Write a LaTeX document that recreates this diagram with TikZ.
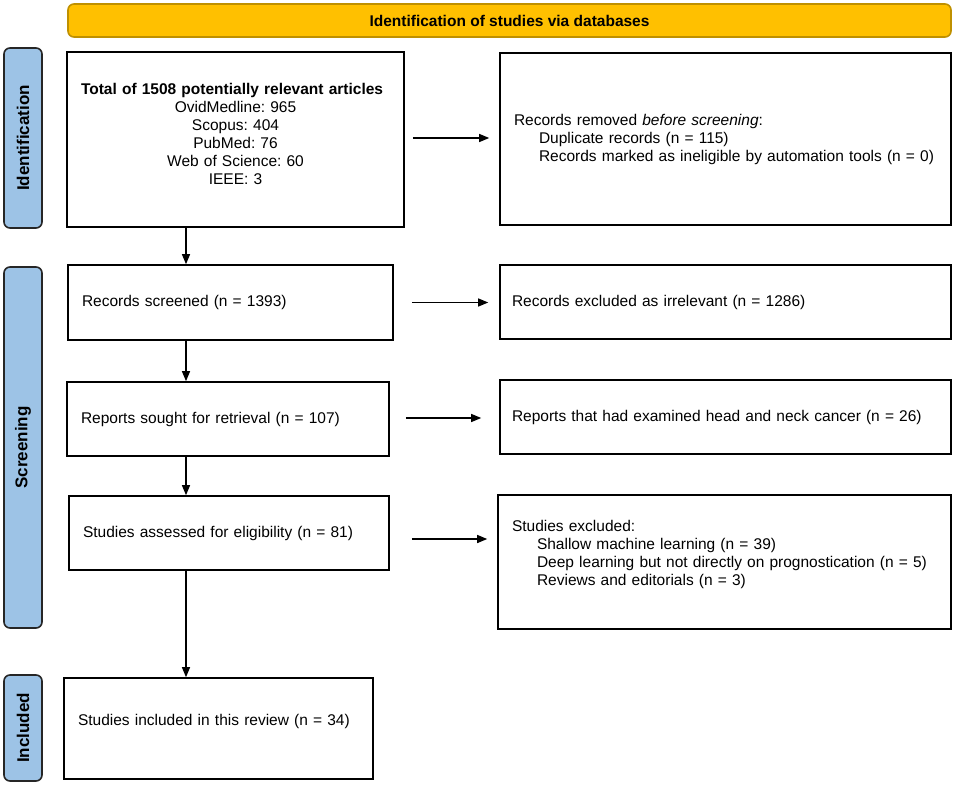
\documentclass[tikz,border=0pt]{standalone}
\usepackage{fontspec}
\setmainfont{Liberation Sans}
\usetikzlibrary{arrows.meta}
\definecolor{bannergold}{HTML}{FFC000}
\definecolor{bannerline}{HTML}{BF9000}
\definecolor{phaseblue}{HTML}{9DC3E6}
\tikzset{
  flowbox/.style={draw, line width=1.6pt, inner xsep=14pt, inner ysep=0pt,
    align=left, font=\fontsize{15.5}{18}\selectfont},
  phase/.style={draw=black!85, line width=1.6pt, fill=phaseblue, rounded corners=6pt,
    rotate=90, inner sep=0pt, minimum height=38pt, font=\bfseries\fontsize{17}{20}\selectfont},
  arr/.style={-{Triangle[length=10pt,width=8pt]}, line width=1.3pt},
}
\newcommand{\ind}{\hspace*{25pt}}
\frenchspacing

\begin{document}
\begin{tikzpicture}[x=1pt,y=-1pt]
  \useasboundingbox (0,0) rectangle (957,786);

  % banner
  \node (banner) [draw=bannerline, fill=bannergold, line width=1.6pt, rounded corners=6pt,
    minimum width=883pt, minimum height=33pt, font=\bfseries\fontsize{15.5}{18}\selectfont]
    at (509.5,20.5) {Identification of studies via databases};

  % phases
  \node (labident)  [phase, minimum width=180pt] at (23,138)   {Identification};
  \node (labscreen) [phase, minimum width=361pt] at (23,447.5) {Screening};
  \node (labincl)   [phase, minimum width=106pt] at (23,728)   {Included};

  % left column
  \node (ident) [flowbox, text width=309pt, minimum height=175pt, text depth=101pt, align=center]
    at (235.5,139.5)
    {\makebox[\linewidth][l]{\bfseries Total of 1508 potentially relevant articles}\\
     OvidMedline: 965\\ Scopus: 404\\ PubMed: 76\\ Web of Science: 60\\ IEEE: 3};
  \node (screened) [flowbox, text width=297pt, minimum height=75pt] at (230.5,302.5)
    {Records screened (n = 1393)};
  \node (sought) [flowbox, text width=294pt, minimum height=74pt] at (228,419)
    {Reports sought for retrieval (n = 107)};
  \node (assessed) [flowbox, text width=292pt, minimum height=74pt] at (229,533)
    {Studies assessed for eligibility (n = 81)};
  \node (included) [flowbox, text width=281pt, minimum height=101pt, text depth=17pt] at (218.5,728.5)
    {Studies included in this review (n = 34)};

  % right column
  \node (removed) [flowbox, text width=423pt, minimum height=172pt] at (725.5,139)
    {Records removed \textit{before screening}:\\
     \ind Duplicate records (n = 115)\\
     \ind Records marked as ineligible by automation tools (n = 0)};
  \node (excluded) [flowbox, inner xsep=12pt, text width=427pt, minimum height=74pt] at (725.5,302)
    {Records excluded as irrelevant (n = 1286)};
  \node (headneck) [flowbox, inner xsep=12pt, text width=427pt, minimum height=74pt] at (725.5,417)
    {Reports that had examined head and neck cancer (n = 26)};
  \node (excl) [flowbox, text width=425pt, minimum height=134pt, text depth=72pt] at (724.5,562)
    {Studies excluded:\\
     \ind Shallow machine learning (n = 39)\\
     \ind Deep learning but not directly on prognostication (n = 5)\\
     \ind Reviews and editorials (n = 3)};

  % arrows
  \coordinate (col) at (186,0);
  \draw [arr] (ident.south -| col) -- (screened.north -| col);
  \draw [arr] (screened.south -| col) -- (sought.north -| col);
  \draw [arr] (sought.south -| col) -- (assessed.north -| col);
  \draw [arr] (assessed.south -| col) -- (included.north -| col);

  \draw [arr, shorten <=8pt, shorten >=10pt] (ident.east |- 0,138) -- (removed.west |- 0,138);
  \draw [arr, shorten <=18pt, shorten >=11pt] (screened.east) -- (excluded.west |- screened.east);
  \draw [arr, shorten <=16pt, shorten >=18pt] (sought.east |- 0,418) -- (headneck.west |- 0,418);
  \draw [arr, shorten <=22pt, shorten >=10pt] (assessed.east |- 0,539) -- (excl.west |- 0,539);
\end{tikzpicture}
\end{document}
